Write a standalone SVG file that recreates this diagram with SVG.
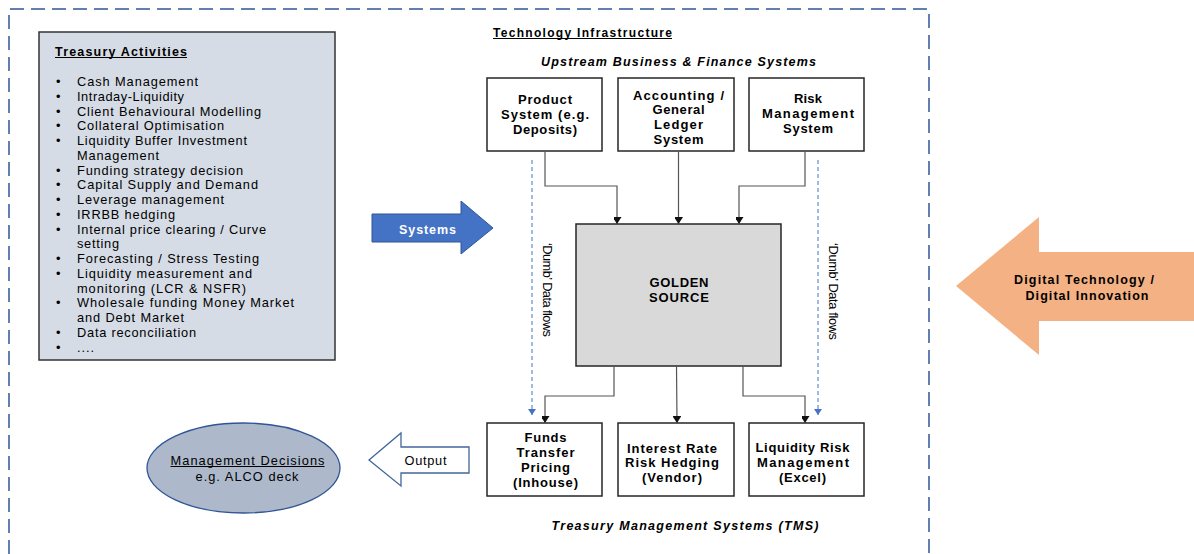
<svg xmlns="http://www.w3.org/2000/svg" width="1194" height="554" viewBox="0 0 1194 554">
<style>
text{font-family:"Liberation Sans",Arial,sans-serif;fill:#000}
.li{font-size:12.8px}
.b{font-size:13px;font-weight:bold}
.bi{font-size:12.5px;font-weight:bold;font-style:italic}
.box{fill:#fff;stroke:#262626;stroke-width:1.5}
.conn{fill:none;stroke:#555;stroke-width:1.2}
.dash{fill:none;stroke:#4472C4;stroke-width:1;stroke-dasharray:4 3}
.ul{stroke:#000;stroke-width:1}
</style>
<defs>
<marker id="ah" markerUnits="userSpaceOnUse" markerWidth="10" markerHeight="8" refX="7" refY="4.5" orient="auto">
<path d="M0,0 L7,4.5 L0,9 z" fill="#111"/>
</marker>
<marker id="bh" markerUnits="userSpaceOnUse" markerWidth="8" markerHeight="9" refX="6" refY="4" orient="auto">
<path d="M0,0 L6,4 L0,8 z" fill="#4472C4"/>
</marker>
</defs>

<g id="frame">
<path d="M9,554 V9 H929 V554" fill="none" stroke="#2F5597" stroke-width="1.5" stroke-dasharray="14 7"/>
<text x="493" y="36.5" font-size="12" font-weight="bold" textLength="179" lengthAdjust="spacing">Technology Infrastructure</text>
<line class="ul" x1="493" y1="38.5" x2="672" y2="38.5"/>
<text x="678.5" y="66" class="bi" text-anchor="middle" textLength="275" lengthAdjust="spacing">Upstream  Business  &amp; Finance Systems</text>
<text x="685" y="530" class="bi" text-anchor="middle" textLength="267" lengthAdjust="spacing">Treasury  Management Systems (TMS)</text>
</g>

<g id="treasury">
<rect x="39" y="32" width="296" height="328" fill="#D6DCE5" stroke="#333" stroke-width="1.5"/>
<text x="55" y="55.5" font-size="12.5" font-weight="bold" textLength="132" lengthAdjust="spacing">Treasury Activities</text>
<line class="ul" x1="55" y1="57.5" x2="187" y2="57.5"/>
<g class="li">
<text x="56" y="86">•</text><text x="77" y="86" textLength="121" lengthAdjust="spacing">Cash Management</text>
<text x="56" y="100.75">•</text><text x="77" y="100.75" textLength="107" lengthAdjust="spacing">Intraday-Liquidity</text>
<text x="56" y="115.5">•</text><text x="77" y="115.5" textLength="184" lengthAdjust="spacing">Client Behavioural  Modelling</text>
<text x="56" y="130.25">•</text><text x="77" y="130.25" textLength="147" lengthAdjust="spacing">Collateral Optimisation</text>
<text x="56" y="145">•</text><text x="77" y="145" textLength="170" lengthAdjust="spacing">Liquidity Buffer Investment</text>
<text x="77" y="159.75" textLength="82" lengthAdjust="spacing">Management</text>
<text x="56" y="174.5">•</text><text x="77" y="174.5" textLength="166" lengthAdjust="spacing">Funding strategy decision</text>
<text x="56" y="189.25">•</text><text x="77" y="189.25" textLength="181" lengthAdjust="spacing">Capital Supply and Demand</text>
<text x="56" y="204">•</text><text x="77" y="204" textLength="147" lengthAdjust="spacing">Leverage  management</text>
<text x="56" y="218.75">•</text><text x="77" y="218.75" textLength="98" lengthAdjust="spacing">IRRBB hedging</text>
<text x="56" y="233.5">•</text><text x="77" y="233.5" textLength="189" lengthAdjust="spacing">Internal  price clearing / Curve</text>
<text x="77" y="248.25" textLength="42" lengthAdjust="spacing">setting</text>
<text x="56" y="263">•</text><text x="77" y="263" textLength="182" lengthAdjust="spacing">Forecasting / Stress Testing</text>
<text x="56" y="277.75">•</text><text x="77" y="277.75" textLength="175" lengthAdjust="spacing">Liquidity measurement  and</text>
<text x="77" y="292.5" textLength="169" lengthAdjust="spacing">monitoring (LCR &amp; NSFR)</text>
<text x="56" y="307.25">•</text><text x="77" y="307.25" textLength="217" lengthAdjust="spacing">Wholesale funding Money Market</text>
<text x="77" y="322" textLength="107" lengthAdjust="spacing">and Debt Market</text>
<text x="56" y="336.75">•</text><text x="77" y="336.75" textLength="119" lengthAdjust="spacing">Data reconciliation</text>
<text x="56" y="351.5">•</text><text x="77" y="351.5" textLength="17" lengthAdjust="spacing">....</text>
</g>
</g>

<g id="systems-arrow">
<path d="M372,214 H461 V201 L493,228 L461,254 V242 H372 Z" fill="#4472C4" stroke="#2F5597" stroke-width="1"/>
<text x="427.5" y="233.5" font-size="12.5" font-weight="bold" style="fill:#fff" text-anchor="middle" textLength="57" lengthAdjust="spacing">Systems</text>
</g>

<g id="digital-arrow">
<path d="M956,286 L1039,217 V252 H1194 V321 H1039 V355 Z" fill="#F4B183"/>
<text x="1084" y="284" font-size="12.5" font-weight="bold" text-anchor="middle" textLength="140" lengthAdjust="spacing">Digital Technology /</text>
<text x="1087" y="299.5" font-size="12.5" font-weight="bold" text-anchor="middle" textLength="123" lengthAdjust="spacing">Digital Innovation</text>
</g>

<g id="product">
<rect class="box" x="487" y="78" width="115" height="73"/>
<text class="b" x="545" y="103.5" text-anchor="middle" textLength="54" lengthAdjust="spacing">Product</text>
<text class="b" x="545" y="118.5" text-anchor="middle" textLength="88" lengthAdjust="spacing">System (e.g.</text>
<text class="b" x="545" y="133.5" text-anchor="middle" textLength="64" lengthAdjust="spacing">Deposits)</text>
</g>
<g id="accounting">
<rect class="box" x="618" y="78" width="116" height="73"/>
<text class="b" x="678.5" y="99.5" text-anchor="middle" textLength="91" lengthAdjust="spacing">Accounting /</text>
<text class="b" x="678.5" y="114" text-anchor="middle" textLength="52" lengthAdjust="spacing">General</text>
<text class="b" x="678.5" y="128.5" text-anchor="middle" textLength="49" lengthAdjust="spacing">Ledger</text>
<text class="b" x="678.5" y="143.5" text-anchor="middle" textLength="50" lengthAdjust="spacing">System</text>
</g>
<g id="risk">
<rect class="box" x="749" y="78" width="115" height="73"/>
<text class="b" x="808" y="102.5" text-anchor="middle" textLength="28" lengthAdjust="spacing">Risk</text>
<text class="b" x="808" y="117.5" text-anchor="middle" textLength="92" lengthAdjust="spacing">Management</text>
<text class="b" x="808" y="132.5" text-anchor="middle" textLength="50" lengthAdjust="spacing">System</text>
</g>

<g id="golden-source">
<rect x="576" y="224" width="205" height="142" fill="#D9D9D9" stroke="#262626" stroke-width="1.5"/>
<text class="b" x="679" y="287" text-anchor="middle" textLength="59" lengthAdjust="spacing">GOLDEN</text>
<text class="b" x="679" y="301.5" text-anchor="middle" textLength="60" lengthAdjust="spacing">SOURCE</text>
</g>

<g id="ftp">
<rect class="box" x="487" y="423" width="115" height="73"/>
<text class="b" x="545.5" y="442" text-anchor="middle" textLength="42" lengthAdjust="spacing">Funds</text>
<text class="b" x="545.5" y="457" text-anchor="middle" textLength="58" lengthAdjust="spacing">Transfer</text>
<text class="b" x="545.5" y="472" text-anchor="middle" textLength="49" lengthAdjust="spacing">Pricing</text>
<text class="b" x="545.5" y="487" text-anchor="middle" textLength="65" lengthAdjust="spacing">(Inhouse)</text>
</g>
<g id="irrh">
<rect class="box" x="618" y="423" width="116" height="73"/>
<text class="b" x="672" y="452.5" text-anchor="middle" textLength="90" lengthAdjust="spacing">Interest Rate</text>
<text class="b" x="672" y="467" text-anchor="middle" textLength="94" lengthAdjust="spacing">Risk  Hedging</text>
<text class="b" x="672" y="482" text-anchor="middle" textLength="60" lengthAdjust="spacing">(Vendor)</text>
</g>
<g id="lrm">
<rect class="box" x="749" y="423" width="115" height="73"/>
<text class="b" x="802.5" y="452" text-anchor="middle" textLength="94" lengthAdjust="spacing">Liquidity Risk</text>
<text class="b" x="803" y="467" text-anchor="middle" textLength="92" lengthAdjust="spacing">Management</text>
<text class="b" x="802.5" y="482" text-anchor="middle" textLength="47" lengthAdjust="spacing">(Excel)</text>
</g>

<g id="output-arrow">
<path d="M369,460 L401,433 V447 H469 V473 H401 V486 Z" fill="#fff" stroke="#41679A" stroke-width="1.3"/>
<text class="li" x="425.5" y="464.5" text-anchor="middle" textLength="42" lengthAdjust="spacing">Output</text>
</g>

<g id="management-decisions">
<ellipse cx="243.5" cy="468" rx="96.5" ry="45" fill="#ADB9CA" stroke="#2F5597" stroke-width="1.3"/>
<text class="li" x="247.5" y="464.5" text-anchor="middle" textLength="154" lengthAdjust="spacing">Management  Decisions</text>
<line class="ul" x1="170.5" y1="466.5" x2="324.5" y2="466.5"/>
<text class="li" x="247" y="480.5" text-anchor="middle" textLength="103" lengthAdjust="spacing">e.g. ALCO deck</text>
</g>

<g id="connectors">
<path class="conn" d="M545,151 V186 H617 V224" marker-end="url(#ah)"/>
<path class="conn" d="M678.5,151 V224" marker-end="url(#ah)"/>
<path class="conn" d="M805,151 V186 H739 V224" marker-end="url(#ah)"/>
<path class="conn" d="M614,366 V396 H545 V423" marker-end="url(#ah)"/>
<path class="conn" d="M676.5,366 L677,423" marker-end="url(#ah)"/>
<path class="conn" d="M743,366 V396 H805 V423" marker-end="url(#ah)"/>
<path class="dash" d="M532,160 V415" marker-end="url(#bh)"/>
<path class="dash" d="M818,160 V415" marker-end="url(#bh)"/>
<text class="li" transform="translate(543,290) rotate(90)" text-anchor="middle" textLength="94" lengthAdjust="spacing">‘Dumb’  Data flows</text>
<text class="li" transform="translate(829,291.5) rotate(90)" text-anchor="middle" textLength="97" lengthAdjust="spacing">‘Dumb’  Data flows</text>
</g>
</svg>
